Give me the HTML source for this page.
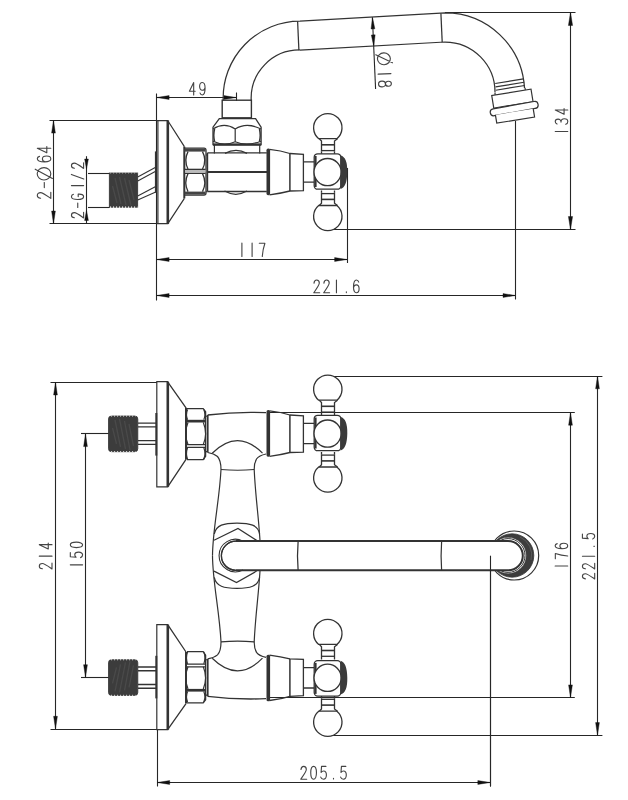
<!DOCTYPE html>
<html><head><meta charset="utf-8"><style>
html,body{margin:0;padding:0;background:#fff;font-family:"Liberation Sans",sans-serif;}
svg{display:block;}
</style></head><body>
<svg width="628" height="800" viewBox="0 0 628 800">
<rect width="628" height="800" fill="#fff"/>
<path d="M156.50,93.50 L156.50,300.50" stroke="#262626" stroke-width="1.1" fill="none"/>
<path d="M156.60,97.50 L236.60,97.50" stroke="#262626" stroke-width="1.1" fill="none"/>
<path d="M156.60,97.50 L169.10,95.60 L169.10,99.40 Z" fill="#111" stroke="#111" stroke-width="0.4"/>
<path d="M236.30,97.50 L223.80,99.40 L223.80,95.60 Z" fill="#111" stroke="#111" stroke-width="0.4"/>
<path d="M236.50,92.50 L236.50,101.00" stroke="#262626" stroke-width="1.1" fill="none"/>
<g transform="translate(189.40,95.00) rotate(0) scale(0.93)" fill="none" stroke="#444" stroke-width="1.20" stroke-linecap="round" stroke-linejoin="round"><path transform="translate(0.00,0)" d="M4.6,0 V-13.5 L0,-4 H6.2"/> <path transform="translate(10.97,0)" d="M0.4,-2.2 C0.8,-0.7 1.7,0 2.8,0 C4.8,0 5.9,-2.7 5.9,-7.5 C5.9,-11.3 4.7,-13.5 2.9,-13.5 C1.2,-13.5 0,-11.9 0,-9.3 C0,-6.7 1.2,-5.1 2.9,-5.1 C4.4,-5.1 5.5,-6.3 5.9,-8"/></g>
<path d="M49.50,120.50 L157.00,120.50" stroke="#262626" stroke-width="1.1" fill="none"/>
<path d="M49.50,223.50 L157.00,223.50" stroke="#262626" stroke-width="1.1" fill="none"/>
<path d="M53.50,120.40 L53.50,223.70" stroke="#262626" stroke-width="1.1" fill="none"/>
<path d="M53.50,120.60 L55.40,133.10 L51.60,133.10 Z" fill="#111" stroke="#111" stroke-width="0.4"/>
<path d="M53.50,223.50 L51.60,211.00 L55.40,211.00 Z" fill="#111" stroke="#111" stroke-width="0.4"/>
<g transform="translate(50.80,198.40) rotate(-90) scale(1.0)" fill="none" stroke="#444" stroke-width="1.12" stroke-linecap="round" stroke-linejoin="round"><path transform="translate(0.00,0)" d="M0.2,-10.2 C0.4,-12.3 1.5,-13.5 3,-13.5 C4.7,-13.5 5.8,-12.2 5.8,-10.2 C5.8,-8.2 4.6,-6.6 0,0 H6.2"/> <path transform="translate(10.40,0)" d="M0.4,-6.5 H5.4"/> <path transform="translate(18.40,0)" d="M6.2,-13.6 C9.6,-13.6 12.4,-10.6 12.4,-6.8 C12.4,-3 9.6,0 6.2,0 C2.8,0 0,-3 0,-6.8 C0,-10.6 2.8,-13.6 6.2,-13.6 Z M1.6,1.6 L10.8,-15.6"/> <path transform="translate(36.40,0)" d="M5.6,-11.3 C5.2,-12.8 4.3,-13.5 3.2,-13.5 C1.2,-13.5 0.1,-10.8 0.1,-6 C0.1,-2.2 1.3,0 3.1,0 C4.8,0 6,-1.6 6,-4.2 C6,-6.8 4.8,-8.4 3.1,-8.4 C1.6,-8.4 0.5,-7.2 0.1,-5.5"/> <path transform="translate(45.60,0)" d="M4.6,0 V-13.5 L0,-4 H6.2"/></g>
<path d="M88.00,173.50 L109.50,173.50" stroke="#262626" stroke-width="1.1" fill="none"/>
<path d="M88.00,207.50 L109.50,207.50" stroke="#262626" stroke-width="1.1" fill="none"/>
<path d="M86.50,156.20 L86.50,223.70" stroke="#262626" stroke-width="1.1" fill="none"/>
<path d="M86.50,169.00 L84.60,159.00 L88.40,159.00 Z" fill="#111" stroke="#111" stroke-width="0.4"/>
<path d="M86.50,210.50 L88.40,220.50 L84.60,220.50 Z" fill="#111" stroke="#111" stroke-width="0.4"/>
<g transform="translate(83.60,217.90) rotate(-90) scale(0.9)" fill="none" stroke="#444" stroke-width="1.24" stroke-linecap="round" stroke-linejoin="round"><path transform="translate(0.00,0)" d="M0.2,-10.2 C0.4,-12.3 1.5,-13.5 3,-13.5 C4.7,-13.5 5.8,-12.2 5.8,-10.2 C5.8,-8.2 4.6,-6.6 0,0 H6.2"/> <path transform="translate(11.11,0)" d="M0.4,-6.5 H5.4"/> <path transform="translate(20.44,0)" d="M5.8,-11.3 C5.4,-12.8 4.4,-13.5 3.1,-13.5 C1.1,-13.5 0,-10.8 0,-6.75 C0,-2.7 1.1,0 3.1,0 C4.9,0 6,-1.8 6,-5 V-6 H3.2"/> <path transform="translate(32.89,0)" d="M3,-13.5 V0"/> <path transform="translate(42.89,0)" d="M0.3,0.2 L5.4,-13.6"/> <path transform="translate(55.00,0)" d="M0.2,-10.2 C0.4,-12.3 1.5,-13.5 3,-13.5 C4.7,-13.5 5.8,-12.2 5.8,-10.2 C5.8,-8.2 4.6,-6.6 0,0 H6.2"/></g>
<path d="M156.60,259.50 L347.30,259.50" stroke="#262626" stroke-width="1.1" fill="none"/>
<path d="M156.60,259.50 L169.10,257.60 L169.10,261.40 Z" fill="#111" stroke="#111" stroke-width="0.4"/>
<path d="M347.10,259.50 L334.60,261.40 L334.60,257.60 Z" fill="#111" stroke="#111" stroke-width="0.4"/>
<path d="M347.50,168.00 L347.50,263.00" stroke="#262626" stroke-width="1.1" fill="none"/>
<g transform="translate(238.90,256.50) rotate(0) scale(1.0)" fill="none" stroke="#444" stroke-width="1.12" stroke-linecap="round" stroke-linejoin="round"><path transform="translate(0.00,0)" d="M3,-13.5 V0"/> <path transform="translate(10.20,0)" d="M3,-13.5 V0"/> <path transform="translate(20.40,0)" d="M0,-13.3 H5.6 C4.3,-9.5 3.3,-5 3.0,0"/></g>
<path d="M156.60,295.50 L515.70,295.50" stroke="#262626" stroke-width="1.1" fill="none"/>
<path d="M156.60,295.50 L169.10,293.60 L169.10,297.40 Z" fill="#111" stroke="#111" stroke-width="0.4"/>
<path d="M515.50,295.50 L503.00,297.40 L503.00,293.60 Z" fill="#111" stroke="#111" stroke-width="0.4"/>
<path d="M515.50,121.00 L515.50,299.50" stroke="#262626" stroke-width="1.1" fill="none"/>
<g transform="translate(313.80,292.80) rotate(0) scale(0.95)" fill="none" stroke="#444" stroke-width="1.18" stroke-linecap="round" stroke-linejoin="round"><path transform="translate(0.00,0)" d="M0.2,-10.2 C0.4,-12.3 1.5,-13.5 3,-13.5 C4.7,-13.5 5.8,-12.2 5.8,-10.2 C5.8,-8.2 4.6,-6.6 0,0 H6.2"/> <path transform="translate(10.42,0)" d="M0.2,-10.2 C0.4,-12.3 1.5,-13.5 3,-13.5 C4.7,-13.5 5.8,-12.2 5.8,-10.2 C5.8,-8.2 4.6,-6.6 0,0 H6.2"/> <path transform="translate(20.84,0)" d="M3,-13.5 V0"/> <path transform="translate(31.26,0)" d="M3,-1 V-0.2"/> <path transform="translate(41.68,0)" d="M5.6,-11.3 C5.2,-12.8 4.3,-13.5 3.2,-13.5 C1.2,-13.5 0.1,-10.8 0.1,-6 C0.1,-2.2 1.3,0 3.1,0 C4.8,0 6,-1.6 6,-4.2 C6,-6.8 4.8,-8.4 3.1,-8.4 C1.6,-8.4 0.5,-7.2 0.1,-5.5"/></g>
<path d="M445.00,12.50 L575.50,12.50" stroke="#262626" stroke-width="1.1" fill="none"/>
<path d="M330.00,229.50 L575.50,229.50" stroke="#262626" stroke-width="1.1" fill="none"/>
<path d="M570.50,12.00 L570.50,229.70" stroke="#262626" stroke-width="1.1" fill="none"/>
<path d="M570.50,12.50 L572.60,25.50 L568.40,25.50 Z" fill="#111" stroke="#111" stroke-width="0.4"/>
<path d="M570.50,229.50 L568.40,216.50 L572.60,216.50 Z" fill="#111" stroke="#111" stroke-width="0.4"/>
<g transform="translate(567.80,134.30) rotate(-90) scale(0.93)" fill="none" stroke="#444" stroke-width="1.20" stroke-linecap="round" stroke-linejoin="round"><path transform="translate(0.00,0)" d="M3,-13.5 V0"/> <path transform="translate(10.75,0)" d="M0.2,-11.6 C0.8,-12.9 1.8,-13.5 3,-13.5 C4.6,-13.5 5.6,-12.4 5.6,-10.5 C5.6,-8.6 4.4,-7.3 2.4,-7.3 C4.6,-7.3 6,-5.9 6,-3.7 C6,-1.4 4.7,0 3,0 C1.6,0 0.5,-0.8 0,-2.2"/> <path transform="translate(21.51,0)" d="M4.6,0 V-13.5 L0,-4 H6.2"/></g>
<path d="M372.40,17.20 L375.60,89.00" stroke="#262626" stroke-width="1.1" fill="none"/>
<path d="M372.45,17.40 L374.86,28.80 L371.06,28.97 Z" fill="#111" stroke="#111" stroke-width="0.4"/>
<path d="M373.75,46.40 L371.34,35.00 L375.14,34.83 Z" fill="#111" stroke="#111" stroke-width="0.4"/>
<g transform="translate(377.20,53.20) rotate(87.5) scale(0.95)" fill="none" stroke="#444" stroke-width="1.18" stroke-linecap="round" stroke-linejoin="round"><path transform="translate(0.00,0)" d="M6.2,-13.6 C9.6,-13.6 12.4,-10.6 12.4,-6.8 C12.4,-3 9.6,0 6.2,0 C2.8,0 0,-3 0,-6.8 C0,-10.6 2.8,-13.6 6.2,-13.6 Z M1.6,1.6 L10.8,-15.6"/> <path transform="translate(19.11,0)" d="M3,-13.5 V0"/> <path transform="translate(29.63,0)" d="M3,-7.3 C1.4,-7.3 0.4,-8.5 0.4,-10.4 C0.4,-12.3 1.5,-13.5 3,-13.5 C4.5,-13.5 5.6,-12.3 5.6,-10.4 C5.6,-8.5 4.6,-7.3 3,-7.3 C1.2,-7.3 0,-5.9 0,-3.7 C0,-1.4 1.3,0 3,0 C4.7,0 6,-1.4 6,-3.7 C6,-5.9 4.8,-7.3 3,-7.3 Z"/></g>
<rect x="109.3" y="173" width="28.4" height="34.2" fill="#3c3c3c" stroke="#333" stroke-width="0.8"/>
<path d="M115.00,178.00 L121.00,204.00" stroke="#4a4a4a" stroke-width="1.3" fill="none"/>
<path d="M119.50,177.00 L126.00,205.00" stroke="#4a4a4a" stroke-width="1.3" fill="none"/>
<path d="M124.50,178.00 L131.00,205.50" stroke="#4a4a4a" stroke-width="1.3" fill="none"/>
<path d="M112.50,186.00 L117.00,203.00" stroke="#4a4a4a" stroke-width="1.3" fill="none"/>
<path d="M129.00,180.00 L134.00,200.00" stroke="#4a4a4a" stroke-width="1.3" fill="none"/>
<path d="M110,207.1 H137.4" stroke="#fff" stroke-width="1.1" stroke-dasharray="1.1 1.9" fill="none"/>
<path d="M110,173.1 H137.4" stroke="#fff" stroke-width="0.8" stroke-dasharray="1.1 1.9" fill="none" opacity="0.6"/>
<path d="M137.70,176.90 L155.70,167.30" stroke="#333" stroke-width="1.1" fill="none"/>
<path d="M137.70,180.90 L155.70,171.30" stroke="#333" stroke-width="1.1" fill="none"/>
<path d="M137.70,196.00 L155.70,186.40" stroke="#333" stroke-width="1.1" fill="none"/>
<path d="M137.70,200.00 L155.70,192.00" stroke="#333" stroke-width="1.1" fill="none"/>
<path d="M155.80,151.40 L155.80,192.80" stroke="#333" stroke-width="1.8" fill="none"/>
<path d="M156.6,120.6 H167.7 V223.7 H156.6 M157.9,120.6 V223.7" stroke="#333" stroke-width="1.2" fill="none" />
<path d="M167.80,120.40 L167.80,223.90" stroke="#333" stroke-width="2.6" fill="none"/>
<path d="M168,121 L184.4,146.6 M168,223.4 L184.4,198.4" stroke="#333" stroke-width="1.2" fill="none" />
<path d="M184.30,146.60 L184.30,198.40" stroke="#333" stroke-width="2.0" fill="none"/>
<path d="M184,148.2 H204 Q206,148.2 206,150.2 V193.1 Q206,195.1 204,195.1 H184" stroke="#333" stroke-width="1.3" fill="none" />
<rect x="184.5" y="148.6" width="21" height="3" fill="#444"/>
<rect x="184.5" y="191.6" width="21" height="3" fill="#444"/>
<path d="M185.00,169.40 L205.50,169.40" stroke="#333" stroke-width="1.4" fill="none"/>
<path d="M185.00,173.30 L205.50,173.30" stroke="#333" stroke-width="1.4" fill="none"/>
<rect x="185" y="170" width="20.5" height="2.7" fill="#bbb"/>
<path d="M188,151.6 Q183.6,160.3 188,169 M202.5,151.6 Q207.1,160.3 202.5,169 M188,173.6 Q183.6,182.6 188,191.6 M202.5,173.6 Q207.1,182.6 202.5,191.6" stroke="#333" stroke-width="1.3" fill="none" />
<path d="M206,155 H207.4 M206,191.7 H207.4" stroke="#333" stroke-width="1.0" fill="none" />
<path d="M207.4,152.9 H266.8 M207.4,191.5 H266.8" stroke="#333" stroke-width="1.3" fill="none" />
<path d="M207.40,152.90 L207.40,191.50" stroke="#333" stroke-width="1.6" fill="none"/>
<path d="M207.40,172.00 L267.00,172.00" stroke="#333" stroke-width="2.0" fill="none"/>
<path d="M225,153.4 Q236,147.5 247,153.4" stroke="#333" stroke-width="1.2" fill="none" />
<path d="M224.5,191.1 Q235.8,197.5 247,191.1" stroke="#333" stroke-width="1.2" fill="none" />
<path d="M219.3,118.6 H255.6 L261.1,127.2 V144.5 H213 V127.2 Z" stroke="#333" stroke-width="1.3" fill="none" />
<path d="M213.00,144.60 L261.10,144.60" stroke="#333" stroke-width="2.2" fill="none"/>
<path d="M213,129 Q224.3,121.8 235.2,129 Q246.5,121.8 261,129 M213,141.2 Q224.3,146.5 235.2,141.7 Q246.5,146.5 261,141.2 M235.2,129 V141.7" stroke="#333" stroke-width="1.2" fill="none" />
<path d="M214.4,144.5 V153.4 M259.7,144.5 V153.4" stroke="#333" stroke-width="1.2" fill="none" />
<path d="M259.4,129 Q261,135.4 259.4,141.6 M214.6,129 Q213,135.4 214.6,141.6" stroke="#333" stroke-width="1.4" fill="none" />
<rect x="222.2" y="100.2" width="29.2" height="17.6" fill="none" stroke="#333" stroke-width="1.4"/>
<path d="M223.2,100.2 A76.8,76.8 0 0 1 300,21.2 L445,12.9 A79.6,79.6 0 0 1 524.5,88" stroke="#333" stroke-width="1.25" fill="none" />
<path d="M251.2,100.2 A48.3,48.3 0 0 1 300,50 L445,42 A50,50 0 0 1 495,92.5" stroke="#333" stroke-width="1.25" fill="none" />
<path d="M297.60,21.30 L298.90,50.20" stroke="#333" stroke-width="1.25" fill="none"/>
<path d="M440.90,13.20 L442.20,42.10" stroke="#333" stroke-width="1.25" fill="none"/>
<g transform="translate(512.3,98.65) rotate(-9.3)" fill="none" stroke="#333" stroke-width="1.2"><path d="M-14.4,-17.7 H14.3 M-14.6,-14.3 H14.3 M-15,-11 H14.4 M-16.2,-8.6 V-6.4 M14.3,-8.6 V-6.4"/><path d="M-19.8,-6.4 H20 V6.3 H-19.8 Z" fill="#fff"/><rect x="-24" y="6.3" width="48.5" height="7" rx="3.5" fill="#fff" transform="rotate(-0.8 24 9.8)"/><path d="M-19.3,13.3 V21.7 H19 V13.3" fill="#fff"/></g>
<g transform="translate(0,0)" fill="none" stroke="#333" stroke-width="1.3"><path d="M269.5,149.4 Q281,150.6 289.9,153.5 L303.4,154.3 V190.6 L289.9,191 Q281,193.4 269.5,194.8" /><rect x="266.5" y="148.6" width="3.6" height="46.6" rx="1.6" fill="#333" stroke="none"/><path d="M289.9,153.5 V191" stroke-width="1.5"/><path d="M303.4,161.9 H314 M303.4,182.2 H314"/><rect x="314.2" y="153.8" width="26.6" height="35.4" rx="3.5" fill="#fff" stroke-width="1.3"/><path d="M315.6,156 V187" stroke-width="2"/><circle cx="327.6" cy="172.1" r="13.6" fill="#fff" stroke-width="1.3"/><path d="M340.6,155.4 Q347.6,157 347.3,172.1 Q347,187.4 340.6,189.1 Z" fill="#3a3a3a" stroke="none"/><g ><path d="M318.7,138.7 A14.2,14.2 0 1 1 336.9,138.7 Z" fill="#fff"/><path d="M319.3,138.7 L321.5,141 V151.4 M337.5,138.7 L334.5,141 V151.4"/><path d="M321.5,144.8 H334.5" stroke-width="1.6"/><path d="M321.5,150.6 H334.5"/><path d="M321.5,151.4 V153.8 M334.5,151.4 V153.8"/></g><g transform="translate(0,344.2) scale(1,-1)"><path d="M318.7,138.7 A14.2,14.2 0 1 1 336.9,138.7 Z" fill="#fff"/><path d="M319.3,138.7 L321.5,141 V151.4 M337.5,138.7 L334.5,141 V151.4"/><path d="M321.5,144.8 H334.5" stroke-width="1.6"/><path d="M321.5,150.6 H334.5"/><path d="M321.5,151.4 V153.8 M334.5,151.4 V153.8"/></g></g>
<path d="M50.50,382.50 L157.00,382.50" stroke="#262626" stroke-width="1.1" fill="none"/>
<path d="M50.50,729.50 L157.00,729.50" stroke="#262626" stroke-width="1.1" fill="none"/>
<path d="M55.50,382.30 L55.50,729.00" stroke="#262626" stroke-width="1.1" fill="none"/>
<path d="M55.50,382.50 L57.40,395.00 L53.60,395.00 Z" fill="#111" stroke="#111" stroke-width="0.4"/>
<path d="M55.50,728.80 L53.60,716.30 L57.40,716.30 Z" fill="#111" stroke="#111" stroke-width="0.4"/>
<g transform="translate(52.00,569.00) rotate(-90) scale(0.94)" fill="none" stroke="#444" stroke-width="1.19" stroke-linecap="round" stroke-linejoin="round"><path transform="translate(0.00,0)" d="M0.2,-10.2 C0.4,-12.3 1.5,-13.5 3,-13.5 C4.7,-13.5 5.8,-12.2 5.8,-10.2 C5.8,-8.2 4.6,-6.6 0,0 H6.2"/> <path transform="translate(10.64,0)" d="M3,-13.5 V0"/> <path transform="translate(21.28,0)" d="M4.6,0 V-13.5 L0,-4 H6.2"/></g>
<path d="M81.00,433.50 L109.60,433.50" stroke="#262626" stroke-width="1.1" fill="none"/>
<path d="M81.00,677.50 L109.60,677.50" stroke="#262626" stroke-width="1.1" fill="none"/>
<path d="M85.50,433.90 L85.50,677.40" stroke="#262626" stroke-width="1.1" fill="none"/>
<path d="M85.50,434.10 L87.40,446.60 L83.60,446.60 Z" fill="#111" stroke="#111" stroke-width="0.4"/>
<path d="M85.50,677.20 L83.60,664.70 L87.40,664.70 Z" fill="#111" stroke="#111" stroke-width="0.4"/>
<g transform="translate(82.60,567.60) rotate(-90) scale(0.91)" fill="none" stroke="#444" stroke-width="1.23" stroke-linecap="round" stroke-linejoin="round"><path transform="translate(0.00,0)" d="M3,-13.5 V0"/> <path transform="translate(10.99,0)" d="M5.5,-13.5 H0.9 L0.4,-7.2 C1.1,-8.1 2,-8.6 3.1,-8.6 C4.9,-8.6 6,-6.9 6,-4.3 C6,-1.6 4.7,0 3,0 C1.6,0 0.5,-0.8 0,-2.2"/> <path transform="translate(21.98,0)" d="M3,-13.5 C4.8,-13.5 6,-10.8 6,-6.75 C6,-2.7 4.8,0 3,0 C1.2,0 0,-2.7 0,-6.75 C0,-10.8 1.2,-13.5 3,-13.5 Z"/></g>
<path d="M330.50,376.50 L602.40,376.50" stroke="#262626" stroke-width="1.1" fill="none"/>
<path d="M330.50,735.50 L602.40,735.50" stroke="#262626" stroke-width="1.1" fill="none"/>
<path d="M597.50,376.10 L597.50,735.30" stroke="#262626" stroke-width="1.1" fill="none"/>
<path d="M597.50,376.30 L599.40,388.80 L595.60,388.80 Z" fill="#111" stroke="#111" stroke-width="0.4"/>
<path d="M597.50,735.10 L595.60,722.60 L599.40,722.60 Z" fill="#111" stroke="#111" stroke-width="0.4"/>
<g transform="translate(594.70,579.00) rotate(-90) scale(0.91)" fill="none" stroke="#444" stroke-width="1.23" stroke-linecap="round" stroke-linejoin="round"><path transform="translate(0.00,0)" d="M0.2,-10.2 C0.4,-12.3 1.5,-13.5 3,-13.5 C4.7,-13.5 5.8,-12.2 5.8,-10.2 C5.8,-8.2 4.6,-6.6 0,0 H6.2"/> <path transform="translate(10.99,0)" d="M0.2,-10.2 C0.4,-12.3 1.5,-13.5 3,-13.5 C4.7,-13.5 5.8,-12.2 5.8,-10.2 C5.8,-8.2 4.6,-6.6 0,0 H6.2"/> <path transform="translate(21.98,0)" d="M3,-13.5 V0"/> <path transform="translate(32.97,0)" d="M3,-1 V-0.2"/> <path transform="translate(43.96,0)" d="M5.5,-13.5 H0.9 L0.4,-7.2 C1.1,-8.1 2,-8.6 3.1,-8.6 C4.9,-8.6 6,-6.9 6,-4.3 C6,-1.6 4.7,0 3,0 C1.6,0 0.5,-0.8 0,-2.2"/></g>
<path d="M268.80,412.50 L574.80,412.50" stroke="#262626" stroke-width="1.1" fill="none"/>
<path d="M268.80,697.50 L574.80,697.50" stroke="#262626" stroke-width="1.1" fill="none"/>
<path d="M570.50,412.50 L570.50,697.60" stroke="#262626" stroke-width="1.1" fill="none"/>
<path d="M570.50,412.70 L572.40,425.20 L568.60,425.20 Z" fill="#111" stroke="#111" stroke-width="0.4"/>
<path d="M570.50,697.40 L568.60,684.90 L572.40,684.90 Z" fill="#111" stroke="#111" stroke-width="0.4"/>
<g transform="translate(567.70,568.80) rotate(-90) scale(0.93)" fill="none" stroke="#444" stroke-width="1.20" stroke-linecap="round" stroke-linejoin="round"><path transform="translate(0.00,0)" d="M3,-13.5 V0"/> <path transform="translate(10.75,0)" d="M0,-13.3 H5.6 C4.3,-9.5 3.3,-5 3.0,0"/> <path transform="translate(21.51,0)" d="M5.6,-11.3 C5.2,-12.8 4.3,-13.5 3.2,-13.5 C1.2,-13.5 0.1,-10.8 0.1,-6 C0.1,-2.2 1.3,0 3.1,0 C4.8,0 6,-1.6 6,-4.2 C6,-6.8 4.8,-8.4 3.1,-8.4 C1.6,-8.4 0.5,-7.2 0.1,-5.5"/></g>
<path d="M157.50,729.00 L157.50,786.50" stroke="#262626" stroke-width="1.1" fill="none"/>
<path d="M490.50,555.70 L490.50,786.50" stroke="#262626" stroke-width="1.1" fill="none"/>
<path d="M157.00,782.50 L490.50,782.50" stroke="#262626" stroke-width="1.1" fill="none"/>
<path d="M157.20,782.50 L169.70,780.60 L169.70,784.40 Z" fill="#111" stroke="#111" stroke-width="0.4"/>
<path d="M490.30,782.50 L477.80,784.40 L477.80,780.60 Z" fill="#111" stroke="#111" stroke-width="0.4"/>
<g transform="translate(300.80,779.20) rotate(0) scale(0.95)" fill="none" stroke="#444" stroke-width="1.18" stroke-linecap="round" stroke-linejoin="round"><path transform="translate(0.00,0)" d="M0.2,-10.2 C0.4,-12.3 1.5,-13.5 3,-13.5 C4.7,-13.5 5.8,-12.2 5.8,-10.2 C5.8,-8.2 4.6,-6.6 0,0 H6.2"/> <path transform="translate(10.47,0)" d="M3,-13.5 C4.8,-13.5 6,-10.8 6,-6.75 C6,-2.7 4.8,0 3,0 C1.2,0 0,-2.7 0,-6.75 C0,-10.8 1.2,-13.5 3,-13.5 Z"/> <path transform="translate(20.95,0)" d="M5.5,-13.5 H0.9 L0.4,-7.2 C1.1,-8.1 2,-8.6 3.1,-8.6 C4.9,-8.6 6,-6.9 6,-4.3 C6,-1.6 4.7,0 3,0 C1.6,0 0.5,-0.8 0,-2.2"/> <path transform="translate(31.42,0)" d="M3,-1 V-0.2"/> <path transform="translate(41.89,0)" d="M5.5,-13.5 H0.9 L0.4,-7.2 C1.1,-8.1 2,-8.6 3.1,-8.6 C4.9,-8.6 6,-6.9 6,-4.3 C6,-1.6 4.7,0 3,0 C1.6,0 0.5,-0.8 0,-2.2"/></g>
<g  fill="none" stroke="#333" stroke-width="1.3"><rect x="108.5" y="416" width="29.3" height="35.7" rx="3" fill="#3c3c3c" stroke="#333" stroke-width="0.8"/><path d="M115,420 L120.5,447 M119.5,419 L125.5,449 M124.5,421 L130,450 M112.5,428 L116.5,444 M129,424 L133.5,446" stroke="#4a4a4a" stroke-width="1.3"/><path d="M111,451.6 H135.5 M111,416.1 H135.5" stroke="#fff" stroke-width="1.0" stroke-dasharray="1.1 1.9" opacity="0.8"/><path d="M138,423.1 H156 M138,426.9 H156 M138,440.6 H156 M138,444.4 H156" stroke-width="1.4"/><path d="M156.3,413 V455.6" stroke-width="2"/><path d="M156.8,381.7 H167.7 V486.8 H156.8 Z" stroke-width="1.2"/><path d="M167.8,381.7 V486.8" stroke-width="2.6"/><path d="M168,382.3 L186,407.8 M168,486.3 L186,459.4"/><path d="M186,407.8 V459.4" stroke-width="2"/><path d="M187,408.6 H203.2 L205.6,411.7 V456.2 L203.2,459.7 H187" stroke-width="1.3"/><rect x="186.5" y="419.8" width="19" height="2.7" fill="#333" stroke="none"/><path d="M187,444.6 H205.6 M187,447.3 H205.6" stroke-width="1.2"/><path d="M187.6,409.5 Q185.4,414.6 187.6,419.8 M203.8,409.5 Q206,414.6 203.8,419.8 M188,422.5 Q183.4,433.5 188,444.6 M203.3,422.5 Q207.9,433.5 203.3,444.6 M187.6,447.5 Q185.4,453.5 187.6,459.5 M203.8,447.5 Q206,453.5 203.8,459.5" stroke-width="1.2"/><path d="M205.6,416.3 H207.5 M205.6,451.6 H207.5" stroke-width="1.1"/><path d="M207.7,415 Q236,411.5 266,412.7" stroke-width="1.3"/><path d="M207.7,415 V452.5" stroke-width="1.8"/><path d="M207.7,452.5 Q214,453.5 217.5,456.5 Q221,460.5 221,469.5 C219.5,500 212.6,530 212.5,555.7" stroke-width="1.2"/><path d="M266,454 Q259,455.5 256.5,459 Q254.2,463 254.2,469.5 C255.5,500 260.5,530 260.6,555.7" stroke-width="1.2"/><path d="M212.2,453.2 Q237.7,428 262.5,453.2" stroke-width="1.2"/><path d="M221,469.5 Q237.6,471 254.2,469.5" stroke-width="1.2"/></g>
<g transform="translate(0,1111.4) scale(1,-1)" fill="none" stroke="#333" stroke-width="1.3"><rect x="108.5" y="416" width="29.3" height="35.7" rx="3" fill="#3c3c3c" stroke="#333" stroke-width="0.8"/><path d="M115,420 L120.5,447 M119.5,419 L125.5,449 M124.5,421 L130,450 M112.5,428 L116.5,444 M129,424 L133.5,446" stroke="#4a4a4a" stroke-width="1.3"/><path d="M111,451.6 H135.5 M111,416.1 H135.5" stroke="#fff" stroke-width="1.0" stroke-dasharray="1.1 1.9" opacity="0.8"/><path d="M138,423.1 H156 M138,426.9 H156 M138,440.6 H156 M138,444.4 H156" stroke-width="1.4"/><path d="M156.3,413 V455.6" stroke-width="2"/><path d="M156.8,381.7 H167.7 V486.8 H156.8 Z" stroke-width="1.2"/><path d="M167.8,381.7 V486.8" stroke-width="2.6"/><path d="M168,382.3 L186,407.8 M168,486.3 L186,459.4"/><path d="M186,407.8 V459.4" stroke-width="2"/><path d="M187,408.6 H203.2 L205.6,411.7 V456.2 L203.2,459.7 H187" stroke-width="1.3"/><rect x="186.5" y="419.8" width="19" height="2.7" fill="#333" stroke="none"/><path d="M187,444.6 H205.6 M187,447.3 H205.6" stroke-width="1.2"/><path d="M187.6,409.5 Q185.4,414.6 187.6,419.8 M203.8,409.5 Q206,414.6 203.8,419.8 M188,422.5 Q183.4,433.5 188,444.6 M203.3,422.5 Q207.9,433.5 203.3,444.6 M187.6,447.5 Q185.4,453.5 187.6,459.5 M203.8,447.5 Q206,453.5 203.8,459.5" stroke-width="1.2"/><path d="M205.6,416.3 H207.5 M205.6,451.6 H207.5" stroke-width="1.1"/><path d="M207.7,415 Q236,411.5 266,412.7" stroke-width="1.3"/><path d="M207.7,415 V452.5" stroke-width="1.8"/><path d="M207.7,452.5 Q214,453.5 217.5,456.5 Q221,460.5 221,469.5 C219.5,500 212.6,530 212.5,555.7" stroke-width="1.2"/><path d="M266,454 Q259,455.5 256.5,459 Q254.2,463 254.2,469.5 C255.5,500 260.5,530 260.6,555.7" stroke-width="1.2"/><path d="M212.2,453.2 Q237.7,428 262.5,453.2" stroke-width="1.2"/><path d="M221,469.5 Q237.6,471 254.2,469.5" stroke-width="1.2"/></g>
<g transform="translate(0,261.5)" fill="none" stroke="#333" stroke-width="1.3"><path d="M269.5,149.4 Q281,150.6 289.9,153.5 L303.4,154.3 V190.6 L289.9,191 Q281,193.4 269.5,194.8" /><rect x="266.5" y="148.6" width="3.6" height="46.6" rx="1.6" fill="#333" stroke="none"/><path d="M289.9,153.5 V191" stroke-width="1.5"/><path d="M303.4,161.9 H314 M303.4,182.2 H314"/><rect x="314.2" y="153.8" width="26.6" height="35.4" rx="3.5" fill="#fff" stroke-width="1.3"/><path d="M315.6,156 V187" stroke-width="2"/><circle cx="327.6" cy="172.1" r="13.6" fill="#fff" stroke-width="1.3"/><path d="M340.6,155.4 Q347.6,157 347.3,172.1 Q347,187.4 340.6,189.1 Z" fill="#3a3a3a" stroke="none"/><g ><path d="M318.7,138.7 A14.2,14.2 0 1 1 336.9,138.7 Z" fill="#fff"/><path d="M319.3,138.7 L321.5,141 V151.4 M337.5,138.7 L334.5,141 V151.4"/><path d="M321.5,144.8 H334.5" stroke-width="1.6"/><path d="M321.5,150.6 H334.5"/><path d="M321.5,151.4 V153.8 M334.5,151.4 V153.8"/></g><g transform="translate(0,344.2) scale(1,-1)"><path d="M318.7,138.7 A14.2,14.2 0 1 1 336.9,138.7 Z" fill="#fff"/><path d="M319.3,138.7 L321.5,141 V151.4 M337.5,138.7 L334.5,141 V151.4"/><path d="M321.5,144.8 H334.5" stroke-width="1.6"/><path d="M321.5,150.6 H334.5"/><path d="M321.5,151.4 V153.8 M334.5,151.4 V153.8"/></g></g>
<g transform="translate(0,1111.4) scale(1,-1)">
<g transform="translate(0,261.5)" fill="none" stroke="#333" stroke-width="1.3"><path d="M269.5,149.4 Q281,150.6 289.9,153.5 L303.4,154.3 V190.6 L289.9,191 Q281,193.4 269.5,194.8" /><rect x="266.5" y="148.6" width="3.6" height="46.6" rx="1.6" fill="#333" stroke="none"/><path d="M289.9,153.5 V191" stroke-width="1.5"/><path d="M303.4,161.9 H314 M303.4,182.2 H314"/><rect x="314.2" y="153.8" width="26.6" height="35.4" rx="3.5" fill="#fff" stroke-width="1.3"/><path d="M315.6,156 V187" stroke-width="2"/><circle cx="327.6" cy="172.1" r="13.6" fill="#fff" stroke-width="1.3"/><path d="M340.6,155.4 Q347.6,157 347.3,172.1 Q347,187.4 340.6,189.1 Z" fill="#3a3a3a" stroke="none"/><g ><path d="M318.7,138.7 A14.2,14.2 0 1 1 336.9,138.7 Z" fill="#fff"/><path d="M319.3,138.7 L321.5,141 V151.4 M337.5,138.7 L334.5,141 V151.4"/><path d="M321.5,144.8 H334.5" stroke-width="1.6"/><path d="M321.5,150.6 H334.5"/><path d="M321.5,151.4 V153.8 M334.5,151.4 V153.8"/></g><g transform="translate(0,344.2) scale(1,-1)"><path d="M318.7,138.7 A14.2,14.2 0 1 1 336.9,138.7 Z" fill="#fff"/><path d="M319.3,138.7 L321.5,141 V151.4 M337.5,138.7 L334.5,141 V151.4"/><path d="M321.5,144.8 H334.5" stroke-width="1.6"/><path d="M321.5,150.6 H334.5"/><path d="M321.5,151.4 V153.8 M334.5,151.4 V153.8"/></g></g>
</g>
<path d="M214.3,534 C216,525 224,523.1 237,523.1 C250,523.1 258,525 259.6,534 M214.3,577.4 C216,586.4 224,588.3 237,588.3 C250,588.3 258,586.4 259.6,577.4" stroke="#333" stroke-width="1.2" fill="none" />
<path d="M214,540.3 L238,528.4 L256.6,540.3 M214,571.1 L236.5,582.5 L256.6,571.1" stroke="#333" stroke-width="1.2" fill="none" />
<path d="M236,541.1 H508.2 A14.6,14.6 0 0 1 508.2,570.3 H236 A14.6,14.6 0 0 1 236,541.1 Z" stroke="#333" stroke-width="1.2" fill="#fff" />
<circle cx="514.2" cy="555.5" r="24.5" fill="#fff" stroke="#333" stroke-width="1.2"/>
<circle cx="512.1" cy="555.5" r="21.7" fill="#3d3d3d" stroke="#333" stroke-width="0.8"/>
<path d="M520,537 A19.5,19.5 0 0 1 531,560" stroke="#5a5a5a" stroke-width="1" fill="none"/>
<circle cx="508.1" cy="555.5" r="18.2" fill="#fff" stroke="#333" stroke-width="0.6"/>
<circle cx="508.1" cy="555.5" r="16.9" fill="none" stroke="#333" stroke-width="1.0"/>
<path d="M236,541.1 H508.2 A14.6,14.6 0 0 1 508.2,570.3 H236" stroke="#333" stroke-width="2.0" fill="#fff" />
<path d="M236,541.1 A14.6,14.6 0 0 0 236,570.3" stroke="#333" stroke-width="1.3" fill="none" />
<path d="M243,541.2 A16.3,16.3 0 1 0 243,570" stroke="#333" stroke-width="1.1" fill="none" />
<path d="M298.1,541.6 Q296.9,555.7 298.1,570" stroke="#333" stroke-width="1.25" fill="none" />
<path d="M441.6,541.6 Q440.6,555.7 441.6,570" stroke="#333" stroke-width="1.2" fill="none" />
<path d="M490.50,555.70 L490.50,786.50" stroke="#262626" stroke-width="1.1" fill="none"/>
</svg>
</body></html>
